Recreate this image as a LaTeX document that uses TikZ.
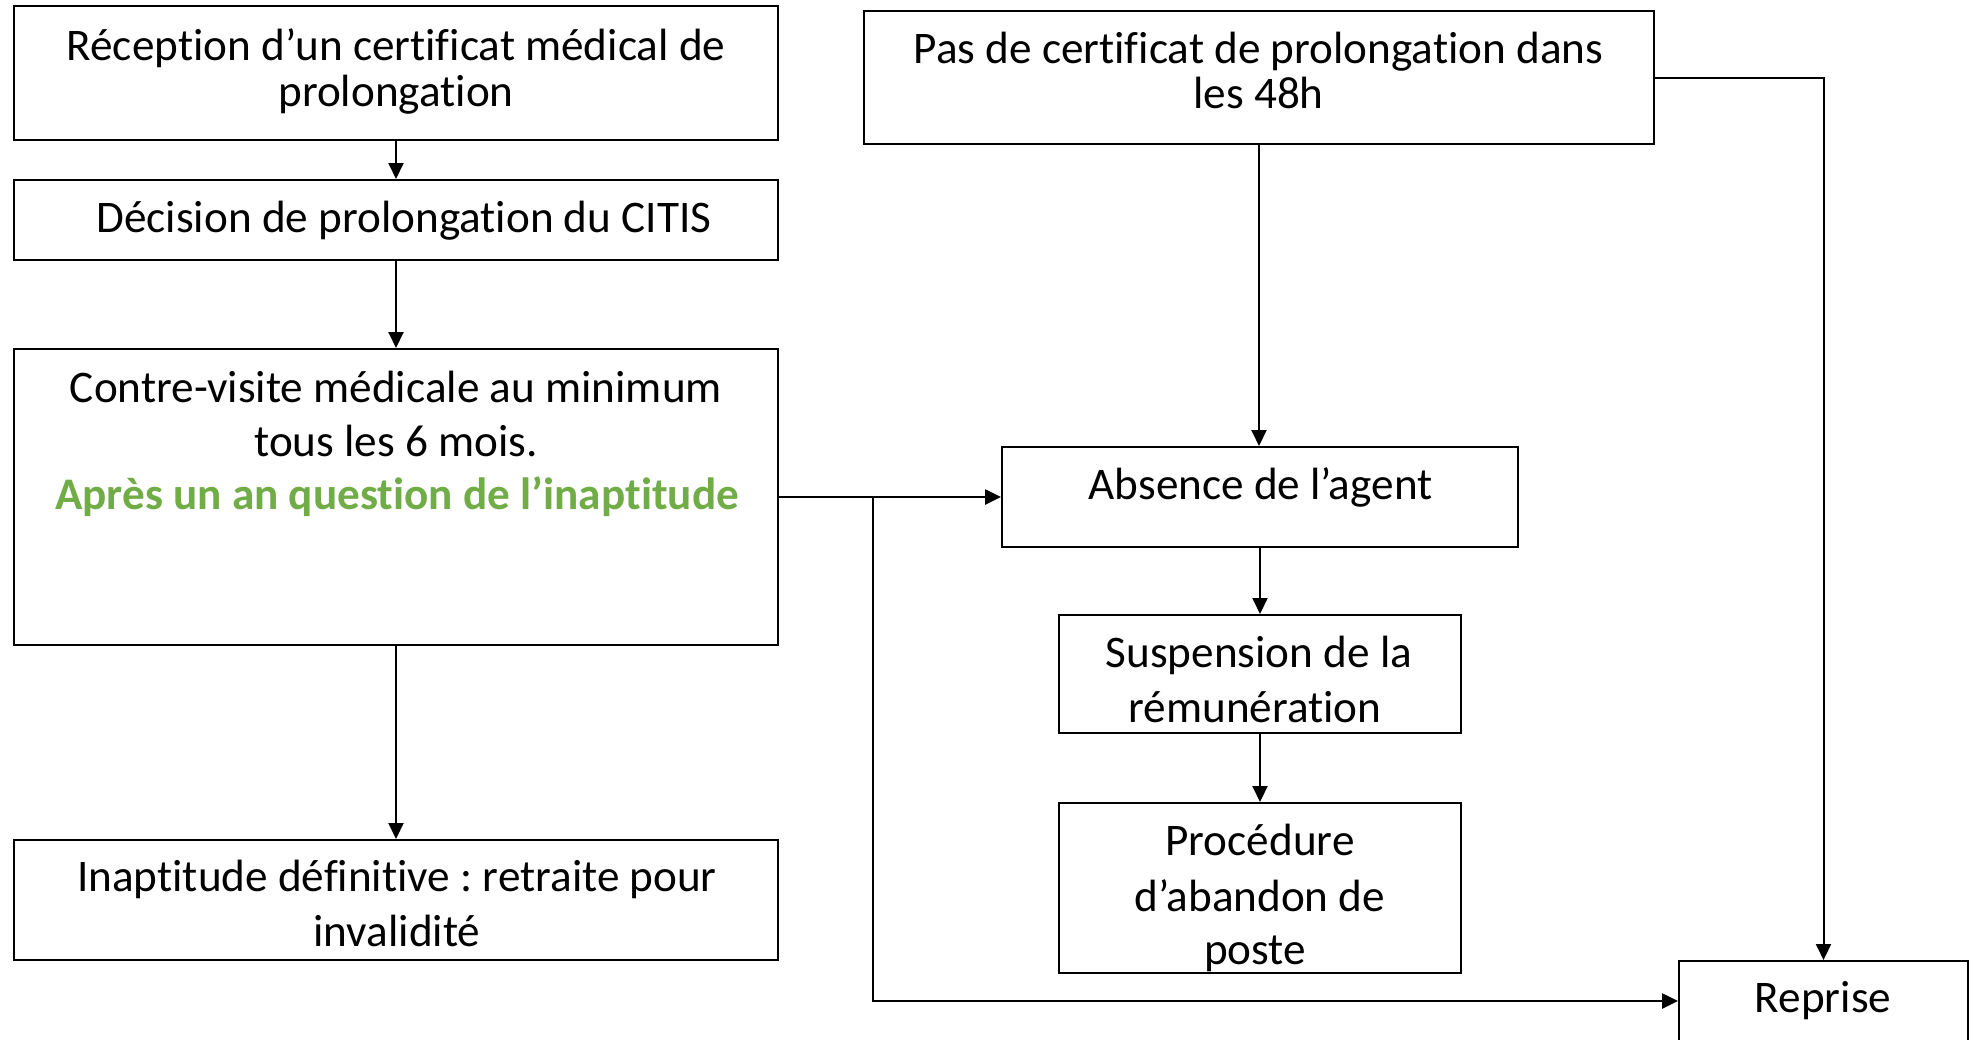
\documentclass[tikz,border=0pt]{standalone}
\usepackage{fontspec}
\setmainfont{Carlito}[Ligatures={NoCommon}]
\usetikzlibrary{arrows.meta,calc}
\definecolor{ogreen}{HTML}{70AD47}
\frenchspacing
\begin{document}
\begin{tikzpicture}[x=0.5pt,y=-0.5pt,
  box/.style={draw=black, line width=1pt, rectangle, inner sep=0pt},
  txt/.style={anchor=base, inner sep=0pt, font=\fontsize{22.6}{26}\selectfont},
  conn/.style={line width=1pt, -{Triangle[length=8pt,width=7.5pt]}},
  thickconn/.style={line width=1.3pt, -{Triangle[length=8pt,width=7.5pt]}},
  link/.style={line width=1.3pt}]
\useasboundingbox (0,0) rectangle (1970,1039);
\fill[white] (0,0) rectangle (1970,1039);

% boxes
\node[box, minimum width=382pt, minimum height=67pt] (A) at (396,73) {};
\node[box, minimum width=382pt, minimum height=40pt] (B) at (396,220) {};
\node[box, minimum width=382pt, minimum height=148pt] (C) at (396,497) {};
\node[box, minimum width=382pt, minimum height=60pt] (D) at (396,900) {};
\node[box, minimum width=395pt, minimum height=66.5pt] (E) at (1259,77.5) {};
\node[box, minimum width=258pt, minimum height=50pt] (Abs) at (1260,497) {};
\node[box, minimum width=201pt, minimum height=59pt] (Sus) at (1260,674) {};
\node[box, minimum width=201pt, minimum height=85pt] (Proc) at (1260,888) {};
\node[box, minimum width=144.5pt, minimum height=40pt] (Rep) at (1823.5,1001) {};

% texts
\node[txt] (A1) at (396,60) {Réception d’un certificat médical de};
\node[txt] (A2) at (396,106) {prolongation};
\node[txt] (B1) at (404,232) {Décision de prolongation du CITIS};
\node[txt] (C1) at (396,402) {Contre-visite médicale au minimum};
\node[txt] (C2) at (396,456) {tous les 6 mois.};
\node[txt, text=ogreen, font=\fontsize{22.6}{26}\selectfont\bfseries] (C3) at (397,509) {Après un an question de l’inaptitude};
\node[txt] (D1) at (397,891) {Inaptitude définitive : retraite pour};
\node[txt] (D2) at (397,946) {invalidité};
\node[txt] (E1) at (1258.5,63) {Pas de certificat de prolongation dans};
\node[txt] (E2) at (1258.5,108) {les 48h};
\node[txt] (Abs1) at (1260.5,499) {Absence de l’agent};
\node[txt] (S1) at (1259,667) {Suspension de la};
\node[txt] (S2) at (1255,722) {rémunération};
\node[txt] (P1) at (1260,855) {Procédure};
\node[txt] (P2) at (1260,911) {d’abandon de};
\node[txt] (P3) at (1255,964) {poste};
\node[txt] (R1) at (1823,1012) {Reprise};

% connectors
\draw[conn] (A.south) -- (B.north);
\draw[conn] (B.south) -- (C.north);
\draw[conn] (C.south) -- (D.north);
\draw[conn] (E.south) -- (E.south |- Abs.north);
\draw[conn] (Abs.south) -- (Sus.north);
\draw[conn] (Sus.south) -- (Proc.north);
\draw[conn] (E.east) -| (Rep.north);
\draw[thickconn] (C.east) -- (Abs.west);
\coordinate (br) at (873,497);
\draw[thickconn] (br) |- (Rep.west);
\end{tikzpicture}
\end{document}
